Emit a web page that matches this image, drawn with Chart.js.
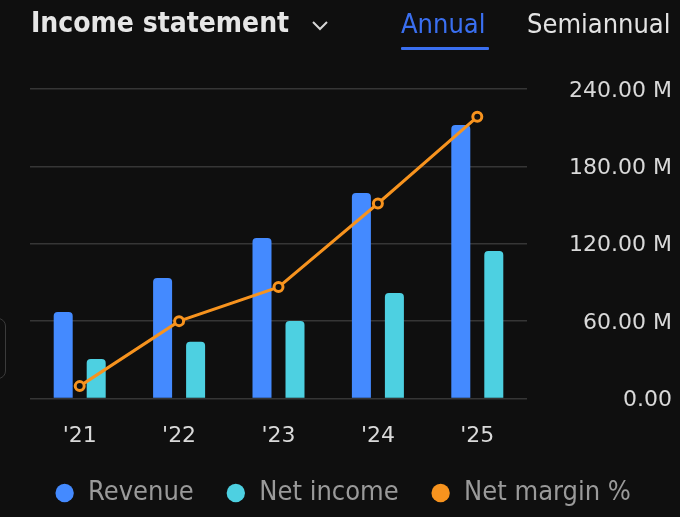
<!DOCTYPE html>
<html>
<head>
<meta charset="utf-8">
<script src="https://cdn.jsdelivr.net/npm/chart.js@4.4.1/dist/chart.umd.min.js"></script>
<style>
  html, body { margin: 0; padding: 0; background: #0f0f0f; }
  #wrap { position: relative; width: 680px; height: 517px; overflow: hidden; }
  #c { position: absolute; left: 0; top: 0; }
  .title { position: absolute; left: 31px; top: 6px; font-family: "DejaVu Sans Condensed", "DejaVu Sans"; font-weight: bold; font-size: 28px; color: #e6e6e6; }
  .chev { position: absolute; left: 311px; top: 20px; }
  .tab { position: absolute; top: 8px; font-family: "DejaVu Sans Condensed", "DejaVu Sans"; font-size: 27px; }
  .tab.on { left: 401px; color: #3a6ff0; }
  .tab.off { left: 527px; color: #e3e3e3; }
  .uline { position: absolute; left: 401px; top: 47px; width: 88px; height: 3px; background: #3a6ff0; border-radius: 1px; }
  .handle { position: absolute; left: -12px; top: 318px; width: 16px; height: 59px; border: 1.5px solid #3b3b3b; border-radius: 8px; }
</style>
</head>
<body>
<div id="wrap">
  <canvas id="c" width="680" height="517"></canvas>
  <div class="title">Income statement</div>
  <svg class="chev" width="20" height="12" viewBox="0 0 20 12"><polyline points="2,2 9,9 16,2" fill="none" stroke="#d6d6d6" stroke-width="2"/></svg>
  <div class="tab on">Annual</div>
  <div class="uline"></div>
  <div class="tab off">Semiannual</div>
  <div class="handle"></div>
</div>
<script>
var years = ["'21", "'22", "'23", "'24", "'25"];
var revenue = [67.1, 93.4, 124.5, 159.4, 212.1];
var netIncome = [30.6, 44.0, 60.1, 81.8, 114.4];
var netMargin = [45.4, 47.5, 48.6, 51.3, 54.1];
var yTicks = [0, 60, 120, 180, 240];

var tickFont = { family: "DejaVu Sans", size: 22 };
function fmt(v) { return v === 0 ? "0.00" : v.toFixed(2) + " M"; }

// right axis labels end at x=672, axis box is 145px wide
var mctx = document.createElement("canvas").getContext("2d");
mctx.font = "22px 'DejaVu Sans'";
var widest = mctx.measureText(fmt(240)).width;

var ctx = document.getElementById("c").getContext("2d");
new Chart(ctx, {
  type: "bar",
  data: {
    labels: years,
    datasets: [
      {
        label: "Revenue",
        data: revenue,
        backgroundColor: "#448aff",
        borderRadius: { topLeft: 4, topRight: 4 },
        borderSkipped: "start",
        categoryPercentage: 0.664,
        barPercentage: 0.576,
        yAxisID: "y",
        order: 1
      },
      {
        label: "Net income",
        data: netIncome,
        backgroundColor: "#4dd0e1",
        borderRadius: { topLeft: 4, topRight: 4 },
        borderSkipped: "start",
        categoryPercentage: 0.664,
        barPercentage: 0.576,
        yAxisID: "y",
        order: 1
      },
      {
        type: "line",
        label: "Net margin %",
        data: netMargin,
        borderColor: "#f7931e",
        backgroundColor: "#f7931e",
        borderWidth: 3,
        pointRadius: 4.5,
        pointBorderWidth: 3,
        pointBackgroundColor: "#0f0f0f",
        pointBorderColor: "#f7931e",
        tension: 0,
        yAxisID: "y2",
        order: 0
      }
    ]
  },
  options: {
    responsive: false,
    animation: false,
    layout: { padding: { top: 89, left: 13.5, right: 8, bottom: 0.5 } },
    scales: {
      x: {
        grid: { display: false, drawTicks: false },
        border: { display: false },
        ticks: { color: "#d9d9d9", font: tickFont, padding: 24.5 },
        afterFit: function(s) { s.height = 49; }
      },
      y: {
        position: "right",
        min: 0,
        max: 240,
        afterBuildTicks: function(s) { s.ticks = yTicks.map(function(v) { return { value: v }; }); },
        grid: { color: "#363636", lineWidth: 1.5, drawTicks: false },
        border: { display: false },
        ticks: {
          color: "#d9d9d9",
          font: tickFont,
          crossAlign: "far",
          labelOffset: 2,
          padding: 145 - widest,
          callback: function(v) { return fmt(v); }
        },
        afterFit: function(s) { s.width = 145; }
      },
      // margin axis: kept invisible, only reserves the left gutter
      y2: {
        position: "left",
        min: 45,
        max: 55,
        grid: { display: false, drawTicks: false },
        border: { display: false },
        ticks: { display: false },
        afterFit: function(s) { s.width = 16.5; }
      }
    },
    plugins: {
      tooltip: { enabled: false },
      legend: {
        position: "bottom",
        labels: {
          usePointStyle: true,
          pointStyle: "circle",
          boxWidth: 20,
          boxHeight: 13,
          padding: 32,
          color: "#9a9a9a",
          font: { family: "DejaVu Sans Condensed", size: 27 },
          sort: function(a, b) { return a.datasetIndex - b.datasetIndex; },
          generateLabels: function(chart) {
            var items = Chart.defaults.plugins.legend.labels.generateLabels(chart);
            items.forEach(function(it) {
              var c = chart.data.datasets[it.datasetIndex].backgroundColor;
              it.fillStyle = c;
              it.strokeStyle = c;
              it.lineWidth = 0;
            });
            return items;
          }
        }
      }
    }
  }
});
</script>
</body>
</html>
